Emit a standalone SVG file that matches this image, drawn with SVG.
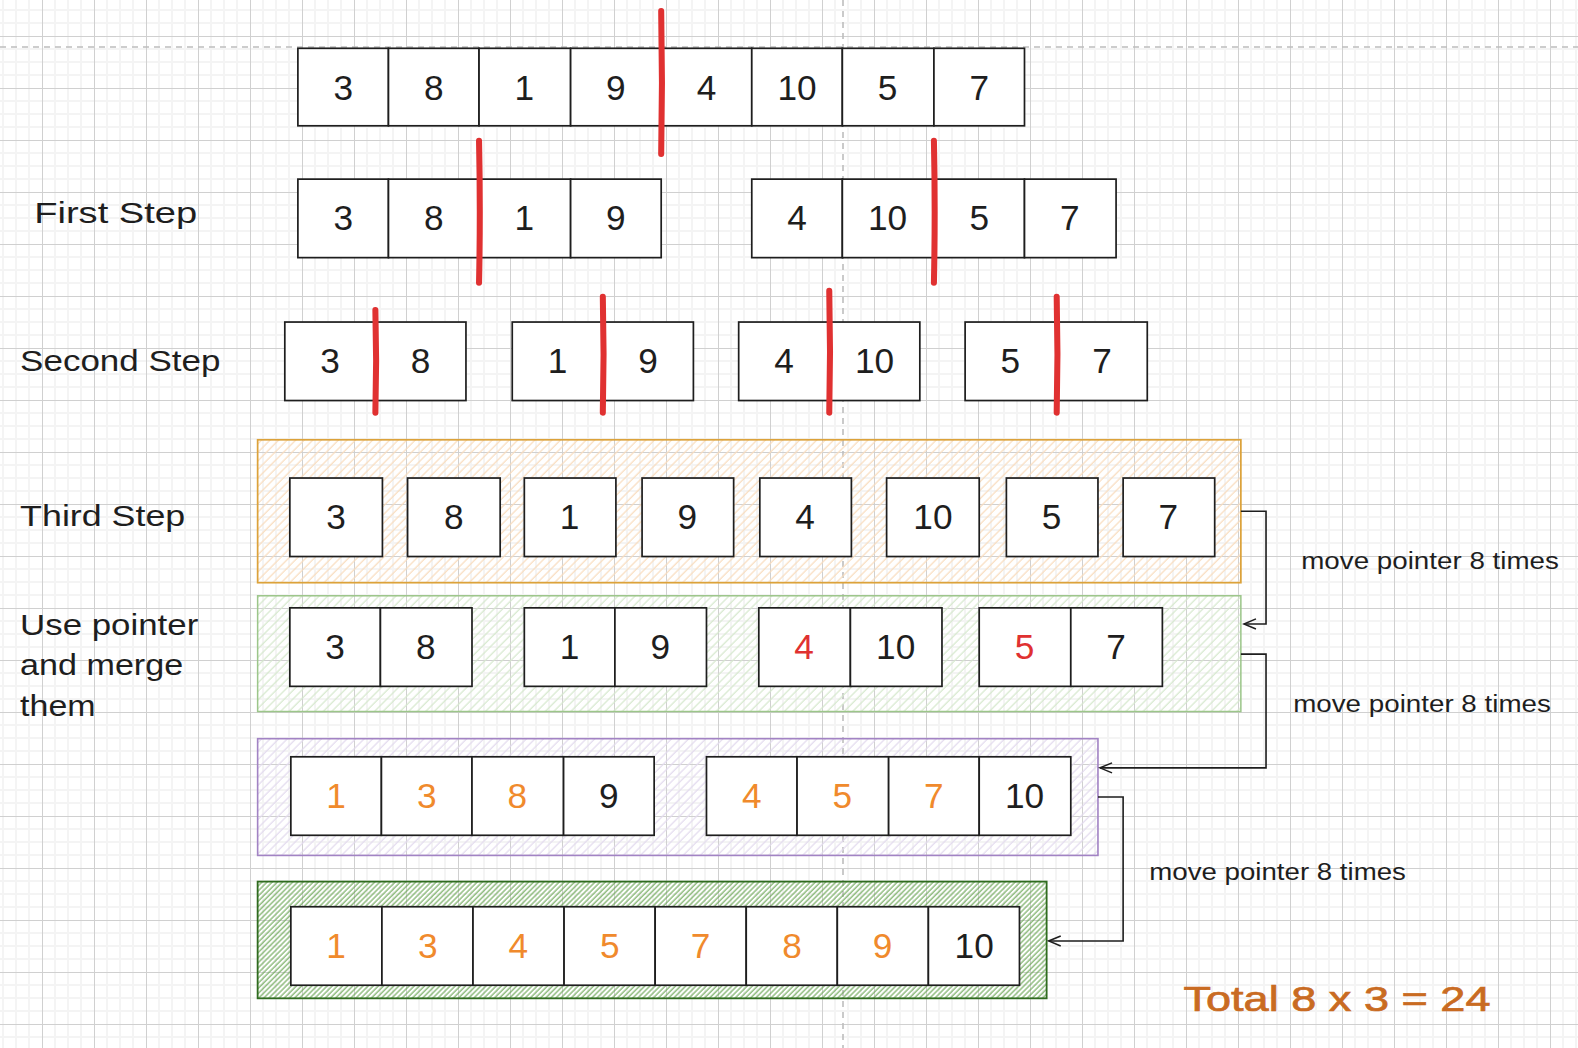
<svg xmlns="http://www.w3.org/2000/svg" width="1578" height="1048" viewBox="0 0 1578 1048">
<defs>
<pattern id="grid" patternUnits="userSpaceOnUse" x="42" y="36" width="52" height="52">
<rect width="52" height="52" fill="#ffffff"/>
<path d="M13,0V52M26,0V52M39,0V52M0,13H52M0,26H52M0,39H52" stroke="#f4f4f4" stroke-width="2"/>
<path d="M0.5,0V52M0,0.5H52" stroke="#d0d0d0" stroke-width="1"/>
</pattern>
<pattern id="hOrange" patternUnits="userSpaceOnUse" width="6" height="6" patternTransform="rotate(45)">
<path d="M1,0V6" stroke="#f9dcbd" stroke-width="1.2"/>
</pattern>
<pattern id="hGreen" patternUnits="userSpaceOnUse" width="6" height="6" patternTransform="rotate(45)">
<path d="M1,0V6" stroke="#d6e8cd" stroke-width="1.2"/>
</pattern>
<pattern id="hPurple" patternUnits="userSpaceOnUse" width="6" height="6" patternTransform="rotate(45)">
<path d="M1,0V6" stroke="#e2daee" stroke-width="1.2"/>
</pattern>
<pattern id="hDark" patternUnits="userSpaceOnUse" width="3.6" height="3.6" patternTransform="rotate(45)">
<path d="M1,0V3.6" stroke="#6aa653" stroke-width="1.1"/>
</pattern>
<marker id="arr" viewBox="-14 -8 16 16" refX="0" refY="0" markerWidth="16" markerHeight="16" markerUnits="userSpaceOnUse" orient="auto">
<path d="M-12,-5 L0,0 L-12,5" fill="none" stroke="#1e1e1e" stroke-width="1.5"/>
</marker>
<style>
.cell{fill:#ffffff;stroke:#1e1e1e;stroke-width:1.7}
.num{font-family:"Liberation Sans",Arial,sans-serif;font-size:35px;text-anchor:middle;fill:#1e1e1e}
.or{fill:#f08a2c}
.rd{fill:#e03131}
.lbl{font-family:"Liberation Sans",Arial,sans-serif;font-size:29px;fill:#1e1e1e}
.mv{font-family:"Liberation Sans",Arial,sans-serif;font-size:23px;fill:#1e1e1e}
.div{fill:none;stroke:#e03131;stroke-width:6;stroke-linecap:round}
.con{fill:none;stroke:#1e1e1e;stroke-width:1.6}
</style>
</defs>
<rect x="0" y="0" width="1578" height="1048" fill="url(#grid)"/>
<path d="M0,47H1578" stroke="#bdbdbd" stroke-width="1.6" stroke-dasharray="6 5"/>
<path d="M843,0V1048" stroke="#bdbdbd" stroke-width="1.6" stroke-dasharray="6 5"/>
<g transform="scale(1.00638)">
<g id="labels">
<text class="lbl" x="34" y="222" textLength="162" lengthAdjust="spacingAndGlyphs">First Step</text>
<text class="lbl" x="20" y="369" textLength="199" lengthAdjust="spacingAndGlyphs">Second Step</text>
<text class="lbl" x="20" y="523" textLength="164" lengthAdjust="spacingAndGlyphs">Third Step</text>
<text class="lbl" x="20" y="631" textLength="177" lengthAdjust="spacingAndGlyphs">Use pointer</text>
<text class="lbl" x="20" y="671" textLength="162" lengthAdjust="spacingAndGlyphs">and merge</text>
<text class="lbl" x="20" y="711" textLength="75" lengthAdjust="spacingAndGlyphs">them</text>
</g>
<g id="containers">
<rect id="c-orange" x="256" y="437" width="977" height="142" fill="url(#hOrange)" stroke="#dca23a" stroke-width="1.7"/>
<rect id="c-green" x="256" y="592" width="977" height="115" fill="url(#hGreen)" stroke="#9cc68a" stroke-width="1.5"/>
<rect id="c-purple" x="256" y="734" width="835" height="116" fill="url(#hPurple)" stroke="#a283c4" stroke-width="1.6"/>
<rect id="c-dark" x="256" y="876" width="784" height="116" fill="url(#hDark)" stroke="#2f6b1f" stroke-width="1.8"/>
</g>
<g id="row1">
<rect class="cell" x="296" y="48" width="90" height="77"/><text class="num" x="341" y="99">3</text>
<rect class="cell" x="386" y="48" width="90" height="77"/><text class="num" x="431" y="99">8</text>
<rect class="cell" x="476" y="48" width="91" height="77"/><text class="num" x="521" y="99">1</text>
<rect class="cell" x="567" y="48" width="90" height="77"/><text class="num" x="612" y="99">9</text>
<rect class="cell" x="657" y="48" width="90" height="77"/><text class="num" x="702" y="99">4</text>
<rect class="cell" x="747" y="48" width="90" height="77"/><text class="num" x="792" y="99">10</text>
<rect class="cell" x="837" y="48" width="91" height="77"/><text class="num" x="882" y="99">5</text>
<rect class="cell" x="928" y="48" width="90" height="77"/><text class="num" x="973" y="99">7</text>
</g>
<g id="row2">
<rect class="cell" x="296" y="178" width="90" height="78"/><text class="num" x="341" y="229">3</text>
<rect class="cell" x="386" y="178" width="90" height="78"/><text class="num" x="431" y="229">8</text>
<rect class="cell" x="476" y="178" width="91" height="78"/><text class="num" x="521" y="229">1</text>
<rect class="cell" x="567" y="178" width="90" height="78"/><text class="num" x="612" y="229">9</text>
<rect class="cell" x="747" y="178" width="90" height="78"/><text class="num" x="792" y="229">4</text>
<rect class="cell" x="837" y="178" width="91" height="78"/><text class="num" x="882" y="229">10</text>
<rect class="cell" x="928" y="178" width="90" height="78"/><text class="num" x="973" y="229">5</text>
<rect class="cell" x="1018" y="178" width="91" height="78"/><text class="num" x="1063" y="229">7</text>
</g>
<g id="row3">
<rect class="cell" x="283" y="320" width="90" height="78"/><text class="num" x="328" y="371">3</text>
<rect class="cell" x="373" y="320" width="90" height="78"/><text class="num" x="418" y="371">8</text>
<rect class="cell" x="509" y="320" width="90" height="78"/><text class="num" x="554" y="371">1</text>
<rect class="cell" x="599" y="320" width="90" height="78"/><text class="num" x="644" y="371">9</text>
<rect class="cell" x="734" y="320" width="90" height="78"/><text class="num" x="779" y="371">4</text>
<rect class="cell" x="824" y="320" width="90" height="78"/><text class="num" x="869" y="371">10</text>
<rect class="cell" x="959" y="320" width="91" height="78"/><text class="num" x="1004" y="371">5</text>
<rect class="cell" x="1050" y="320" width="90" height="78"/><text class="num" x="1095" y="371">7</text>
</g>
<g id="row4">
<rect class="cell" x="288" y="475" width="92" height="78"/><text class="num" x="334" y="526">3</text>
<rect class="cell" x="405" y="475" width="92" height="78"/><text class="num" x="451" y="526">8</text>
<rect class="cell" x="521" y="475" width="91" height="78"/><text class="num" x="566" y="526">1</text>
<rect class="cell" x="638" y="475" width="91" height="78"/><text class="num" x="683" y="526">9</text>
<rect class="cell" x="755" y="475" width="91" height="78"/><text class="num" x="800" y="526">4</text>
<rect class="cell" x="881" y="475" width="92" height="78"/><text class="num" x="927" y="526">10</text>
<rect class="cell" x="1000" y="475" width="91" height="78"/><text class="num" x="1045" y="526">5</text>
<rect class="cell" x="1116" y="475" width="91" height="78"/><text class="num" x="1161" y="526">7</text>
</g>
<g id="row5">
<rect class="cell" x="288" y="604" width="90" height="78"/><text class="num" x="333" y="655">3</text>
<rect class="cell" x="378" y="604" width="91" height="78"/><text class="num" x="423" y="655">8</text>
<rect class="cell" x="521" y="604" width="90" height="78"/><text class="num" x="566" y="655">1</text>
<rect class="cell" x="611" y="604" width="91" height="78"/><text class="num" x="656" y="655">9</text>
<rect class="cell" x="754" y="604" width="91" height="78"/><text class="num rd" x="799" y="655">4</text>
<rect class="cell" x="845" y="604" width="91" height="78"/><text class="num" x="890" y="655">10</text>
<rect class="cell" x="973" y="604" width="91" height="78"/><text class="num rd" x="1018" y="655">5</text>
<rect class="cell" x="1064" y="604" width="91" height="78"/><text class="num" x="1109" y="655">7</text>
</g>
<g id="row6">
<rect class="cell" x="289" y="752" width="90" height="78"/><text class="num or" x="334" y="803">1</text>
<rect class="cell" x="379" y="752" width="90" height="78"/><text class="num or" x="424" y="803">3</text>
<rect class="cell" x="469" y="752" width="91" height="78"/><text class="num or" x="514" y="803">8</text>
<rect class="cell" x="560" y="752" width="90" height="78"/><text class="num" x="605" y="803">9</text>
<rect class="cell" x="702" y="752" width="90" height="78"/><text class="num or" x="747" y="803">4</text>
<rect class="cell" x="792" y="752" width="91" height="78"/><text class="num or" x="837" y="803">5</text>
<rect class="cell" x="883" y="752" width="90" height="78"/><text class="num or" x="928" y="803">7</text>
<rect class="cell" x="973" y="752" width="91" height="78"/><text class="num" x="1018" y="803">10</text>
</g>
<g id="row7">
<rect class="cell" x="289" y="901" width="90.5" height="78"/><text class="num or" x="334" y="952">1</text>
<rect class="cell" x="379.5" y="901" width="90.5" height="78"/><text class="num or" x="425" y="952">3</text>
<rect class="cell" x="470" y="901" width="90.5" height="78"/><text class="num or" x="515" y="952">4</text>
<rect class="cell" x="560.5" y="901" width="90.5" height="78"/><text class="num or" x="606" y="952">5</text>
<rect class="cell" x="651" y="901" width="90.5" height="78"/><text class="num or" x="696" y="952">7</text>
<rect class="cell" x="741.5" y="901" width="90.5" height="78"/><text class="num or" x="787" y="952">8</text>
<rect class="cell" x="832" y="901" width="90.5" height="78"/><text class="num or" x="877" y="952">9</text>
<rect class="cell" x="922.5" y="901" width="90.5" height="78"/><text class="num" x="968" y="952">10</text>
</g>
<g id="dividers">
<path class="div" d="M657,11 Q658.5,82 657,153"/>
<path class="div" d="M476,140 Q477.5,210 476,281"/>
<path class="div" d="M928,140 Q929.5,210 928,281"/>
<path class="div" d="M373,308 Q374.5,359 373,410"/>
<path class="div" d="M599,295 Q600.5,352 599,410"/>
<path class="div" d="M824,289 Q825.5,350 824,410"/>
<path class="div" d="M1050,295 Q1051.5,352 1050,410"/>
</g>
<g id="connectors">
<path class="con" d="M1233,508 H1258 V620 H1236" marker-end="url(#arr)"/>
<path class="con" d="M1233,650 H1258 V763 H1093" marker-end="url(#arr)"/>
<path class="con" d="M1091,792 H1116 V935 H1042" marker-end="url(#arr)"/>
</g>
<g id="connector-labels">
<text class="mv" x="1293" y="565" textLength="256" lengthAdjust="spacingAndGlyphs">move pointer 8 times</text>
<text class="mv" x="1285" y="707" textLength="256" lengthAdjust="spacingAndGlyphs">move pointer 8 times</text>
<text class="mv" x="1142" y="874" textLength="255" lengthAdjust="spacingAndGlyphs">move pointer 8 times</text>
</g>
<g id="total">
<text x="1176" y="1005" font-family="'Liberation Sans',Arial,sans-serif" font-size="35" fill="#c96b22" stroke="#c96b22" stroke-width="0.7" textLength="305" lengthAdjust="spacingAndGlyphs">Total 8 x 3 = 24</text>
</g>
</g>
</svg>
